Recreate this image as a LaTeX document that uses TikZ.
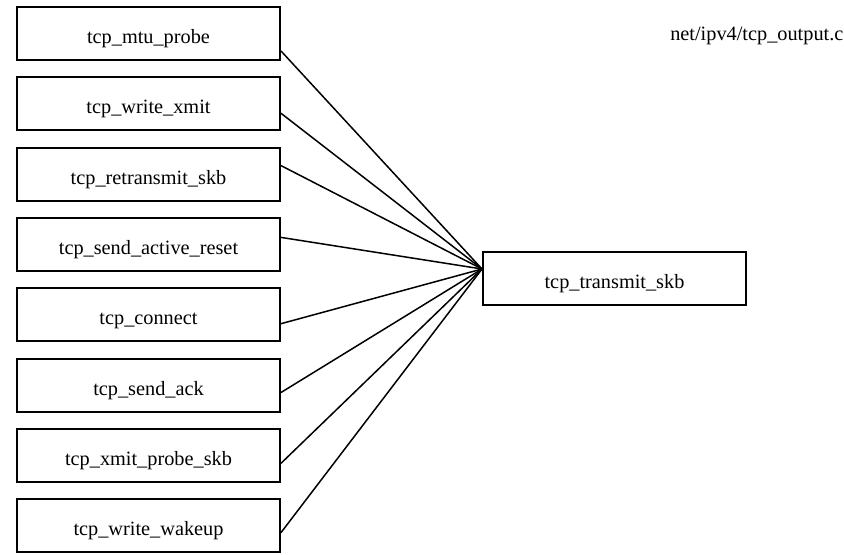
\documentclass[tikz,border=0pt]{standalone}
\usepackage{fontspec}
\setmainfont{Liberation Serif}
\usetikzlibrary{calc}

\begin{document}
\begin{tikzpicture}[x=0.5pt,y=-0.5pt,line width=.75pt,
  font=\fontsize{10.15}{12}\selectfont,
  fn/.style={draw,line width=1pt,minimum width=131.5pt,minimum height=26.5pt,inner sep=0pt,
    text height=1em,text depth=0pt}]

\useasboundingbox (0,0) rectangle (844,555);

\foreach \i/\lbl in {1/tcp\_mtu\_probe,2/tcp\_write\_xmit,3/tcp\_retransmit\_skb,
  4/tcp\_send\_active\_reset,5/tcp\_connect,6/tcp\_send\_ack,
  7/tcp\_xmit\_probe\_skb,8/tcp\_write\_wakeup}{
\node[fn] (f\i) at (148.5,{33.5+70.3*(\i-1)}) {\lbl};
}

\node[fn] (xmit) at (614.5,278.5) {tcp\_transmit\_skb};
\coordinate (hub) at ($(xmit.west)+(0,-9.5)$);

\node[anchor=west,inner sep=0pt] (file) at (669.5,36) {net/ipv4/tcp\_output.c};

% callers
\foreach \i/\dy in {1/17.5,2/9.5,3/-8.5,4/-7,5/9,6/7.5,7/8,8/7}{
\draw ($(f\i.east)+(0,\dy)$) -- (hub);
}
\end{tikzpicture}
\end{document}
